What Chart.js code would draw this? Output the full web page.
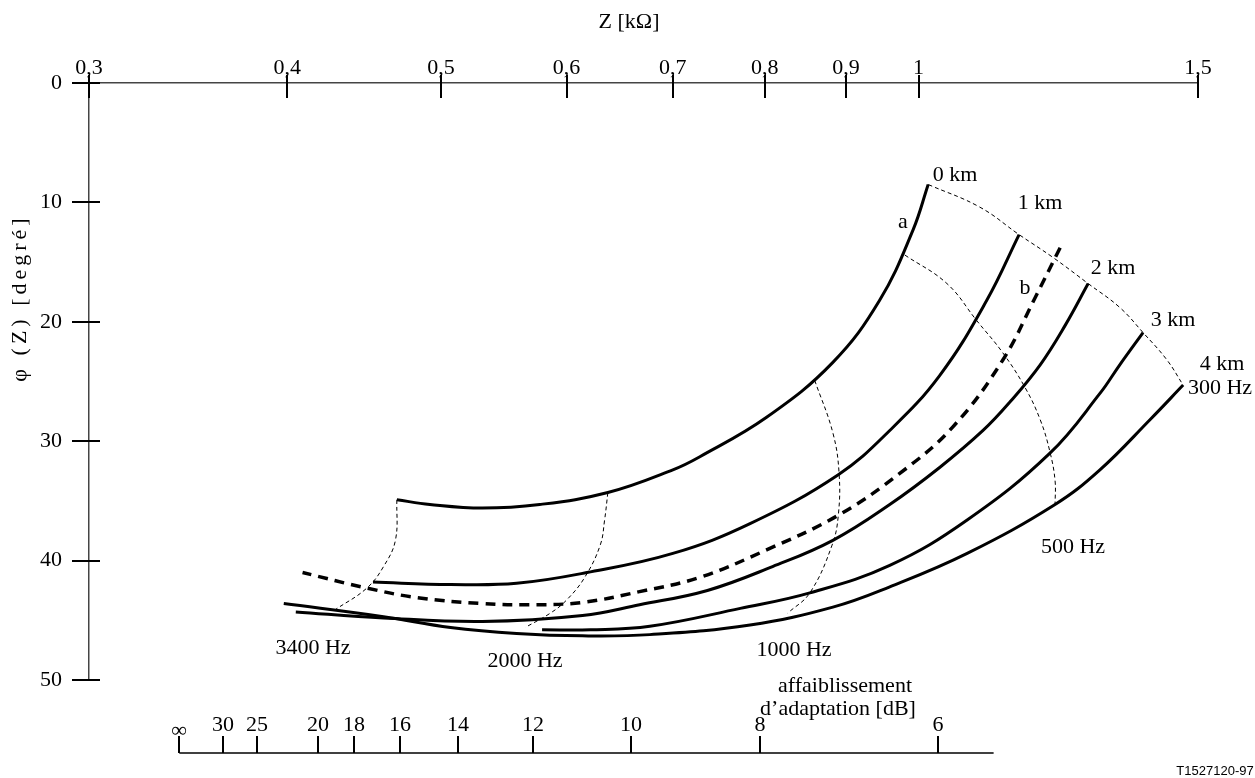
<!DOCTYPE html>
<html>
<head>
<meta charset="utf-8">
<title>Z [kΩ] / φ (Z)</title>
<script src="https://cdn.jsdelivr.net/npm/chart.js@4/dist/chart.umd.min.js"></script>
<style>
  html, body { margin: 0; padding: 0; background: #fff; }
  #wrap { width: 1255px; height: 778px; position: relative; }
</style>
</head>
<body>
<div id="wrap"><canvas id="chart"></canvas></div>
<script>
// axis ticks
const zTicks = [0.3, 0.4, 0.5, 0.6, 0.7, 0.8, 0.9, 1, 1.5];
const phiTicks = [0, 10, 20, 30, 40, 50];

// return loss ruler (affaiblissement d'adaptation), laid on the Z scale
const rlLabels = ["∞", "30", "25", "20", "18", "16", "14", "12", "10", "8", "6"];
const rlDb = [Infinity, 30, 25, 20, 18, 16, 14, 12, 10, 8, 6];
const rulerOriginZ = 0.342;
const rulerEndZ = 1.115;

// loci [Z kΩ, φ degrees], from 300 Hz to 3400 Hz
const km0 = [[1.014,8.5],[0.992,12.3],[0.945,18.2],[0.883,23.4],[0.802,28.0],[0.728,31.3],[0.700,32.4],[0.637,34.3],[0.577,35.3],[0.531,35.6],[0.492,35.3],[0.469,34.9]];
const km1 = [[1.157,12.7],[1.104,18.2],[1.031,24.5],[0.959,29.1],[0.890,32.8],[0.783,36.9],[0.700,39.4],[0.618,41.0],[0.558,41.9],[0.507,42.0],[0.453,41.8]];
const curveB = [[1.228,13.8],[1.184,18.0],[1.130,23.2],[1.051,28.8],[0.973,32.7],[0.890,36.2],[0.802,39.1],[0.728,41.4],[0.667,42.6],[0.614,43.5],[0.569,43.7],[0.531,43.6],[0.483,43.1],[0.449,42.3],[0.409,41.0]];
const km2 = [[1.279,16.8],[1.237,20.3],[1.193,23.6],[1.142,26.7],[1.098,29.1],[1.031,32.2],[0.959,35.3],[0.883,38.3],[0.809,40.5],[0.736,42.5],[0.667,43.7],[0.614,44.6],[0.531,45.1],[0.460,44.8],[0.405,44.3]];
const km3 = [[1.385,20.9],[1.339,23.6],[1.301,26.0],[1.210,31.0],[1.073,36.6],[0.959,40.4],[0.854,42.7],[0.772,44.0],[0.677,45.5],[0.621,45.8],[0.579,45.8]];
const km4 = [[1.468,25.3],[1.399,28.2],[1.301,32.4],[1.219,35.3],[1.073,39.4],[0.959,42.2],[0.883,43.9],[0.783,45.4],[0.677,46.2],[0.614,46.3],[0.558,46.1],[0.507,45.6],[0.460,44.7],[0.398,43.6]];

// equal frequency lines
const f300 = [[1.014,8.5],[1.093,10.4],[1.157,12.7],[1.215,14.6],[1.279,16.8],[1.339,18.8],[1.385,20.9],[1.434,23.2],[1.468,25.3]];
const f500 = [[0.980,14.4],[1.042,16.8],[1.088,19.9],[1.130,22.6],[1.167,25.5],[1.193,28.2],[1.210,30.9],[1.219,33.3],[1.219,35.3]];
const f1000 = [[0.860,24.9],[0.883,29.3],[0.891,32.7],[0.890,36.2],[0.882,38.7],[0.854,42.7],[0.827,44.4]];
const f2000 = [[0.637,34.3],[0.634,36.6],[0.630,38.7],[0.616,41.4],[0.600,43.3],[0.586,44.4],[0.565,45.6]];
const f3400 = [[0.469,34.9],[0.468,38.3],[0.460,40.5],[0.449,42.3],[0.429,44.1]];

const serif = '"Liberation Serif", "Times New Roman", serif';
const elChart = document.getElementById("chart");

function toPts(arr) {
  return arr.map(p => ({ x: p[0], y: p[1] }));
}

function rulerZ(db) {
  const rho = Math.pow(10, -db / 20);
  return rulerOriginZ * (1 + rho) / (1 - rho);
}

function solid(arr) {
  return { data: toPts(arr), borderColor: "#000", borderWidth: 3, tension: 0.4 };
}
function thin(arr) {
  return { data: toPts(arr), borderColor: "#000", borderWidth: 1, borderDash: [4, 3], tension: 0.4 };
}

const datasets = [
  solid(km0), solid(km1),
  { data: toPts(curveB), borderColor: "#000", borderWidth: 3.5, borderDash: [10, 7], tension: 0.4 },
  solid(km2), solid(km3), solid(km4),
  thin(f300), thin(f500), thin(f1000), thin(f2000), thin(f3400)
];

function line(ctx, x1, y1, x2, y2) {
  ctx.beginPath();
  ctx.moveTo(x1, y1);
  ctx.lineTo(x2, y2);
  ctx.stroke();
}

// crossing tick marks, the dB ruler and the free text
const drawExtras = {
  id: "drawExtras",
  afterDraw(chart) {
    const { ctx, scales: { x, y } } = chart;
    ctx.save();
    ctx.strokeStyle = "#000";
    ctx.lineWidth = 2;
    x.ticks.forEach(t => {
      const px = Math.round(x.getPixelForValue(t.value));
      line(ctx, px, y.top - 8, px, y.top + 15);
    });
    y.ticks.forEach(t => {
      const py = Math.round(y.getPixelForValue(t.value));
      line(ctx, x.left - 17, py, x.left + 11, py);
    });

    // ruler
    const ry = y.bottom + 73;
    ctx.lineWidth = 1.5;
    line(ctx, x.getPixelForValue(rulerOriginZ), ry, x.getPixelForValue(rulerEndZ), ry);
    ctx.lineWidth = 2;
    ctx.fillStyle = "#000";
    ctx.font = "22px " + serif;
    ctx.textAlign = "center";
    ctx.textBaseline = "middle";
    rlDb.forEach((db, i) => {
      const px = Math.round(x.getPixelForValue(rulerZ(db)));
      line(ctx, px, ry - 17, px, ry);
      ctx.fillText(rlLabels[i], px, i === 0 ? ry - 22 : ry - 28);
    });

    const texts = [
      ["Z [kΩ]", 629, 22],
      ["0 km", 955, 175], ["1 km", 1040, 203], ["2 km", 1113, 268],
      ["3 km", 1173, 320], ["4 km", 1222, 364], ["300 Hz", 1220, 388],
      ["500 Hz", 1073, 547], ["1000 Hz", 794, 650], ["2000 Hz", 525, 661],
      ["3400 Hz", 313, 648], ["a", 903, 222], ["b", 1025, 288],
      ["affaiblissement", 845, 686], ["d’adaptation [dB]", 838, 709]
    ];
    texts.forEach(t => ctx.fillText(t[0], t[1], t[2]));

    // y title, spaced out as in the original
    ctx.save();
    ctx.translate(20, 300);
    ctx.rotate(-Math.PI / 2);
    if ("letterSpacing" in ctx) {
      ctx.letterSpacing = "4px";
      ctx.fillText("φ (Z) [degré]", 2, 0);
    } else {
      ctx.fillText("φ  (Z)  [degré]", 0, 0);
    }
    ctx.restore();

    ctx.font = '13px "Liberation Sans", Arial, sans-serif';
    ctx.fillText("T1527120-97", 1215, 771);
    ctx.restore();
  }
};

new Chart(elChart, {
  type: "scatter",
  data: { datasets },
  options: {
    responsive: true,
    maintainAspectRatio: false,
    animation: false,
    devicePixelRatio: 1,
    layout: { padding: { top: 40, left: 30, right: 57, bottom: 98 } },
    elements: { point: { radius: 0 }, line: { fill: false } },
    datasets: { scatter: { showLine: true, pointRadius: 0 } },
    plugins: { legend: { display: false }, tooltip: { enabled: false } },
    scales: {
      x: {
        type: "logarithmic",
        position: "top",
        min: 0.3,
        max: 1.5,
        afterBuildTicks: s => { s.ticks = zTicks.map(v => ({ value: v })); },
        afterFit: s => { s.height = 43; },
        grid: { display: false, drawTicks: false },
        border: { display: true, color: "#444", width: 1.5 },
        ticks: {
          callback: v => String(v).replace(".", ","),
          font: { family: serif, size: 22 },
          color: "#000",
          padding: 2,
          maxRotation: 0,
          autoSkip: false
        }
      },
      y: {
        min: 0,
        max: 50,
        reverse: true,
        afterBuildTicks: s => { s.ticks = phiTicks.map(v => ({ value: v })); },
        afterFit: s => { s.width = 59; },
        grid: { display: false, drawTicks: false },
        border: { display: true, color: "#444", width: 1.5 },
        ticks: {
          font: { family: serif, size: 22 },
          color: "#000",
          padding: 27
        }
      }
    }
  },
  plugins: [drawExtras]
});
</script>
</body>
</html>
